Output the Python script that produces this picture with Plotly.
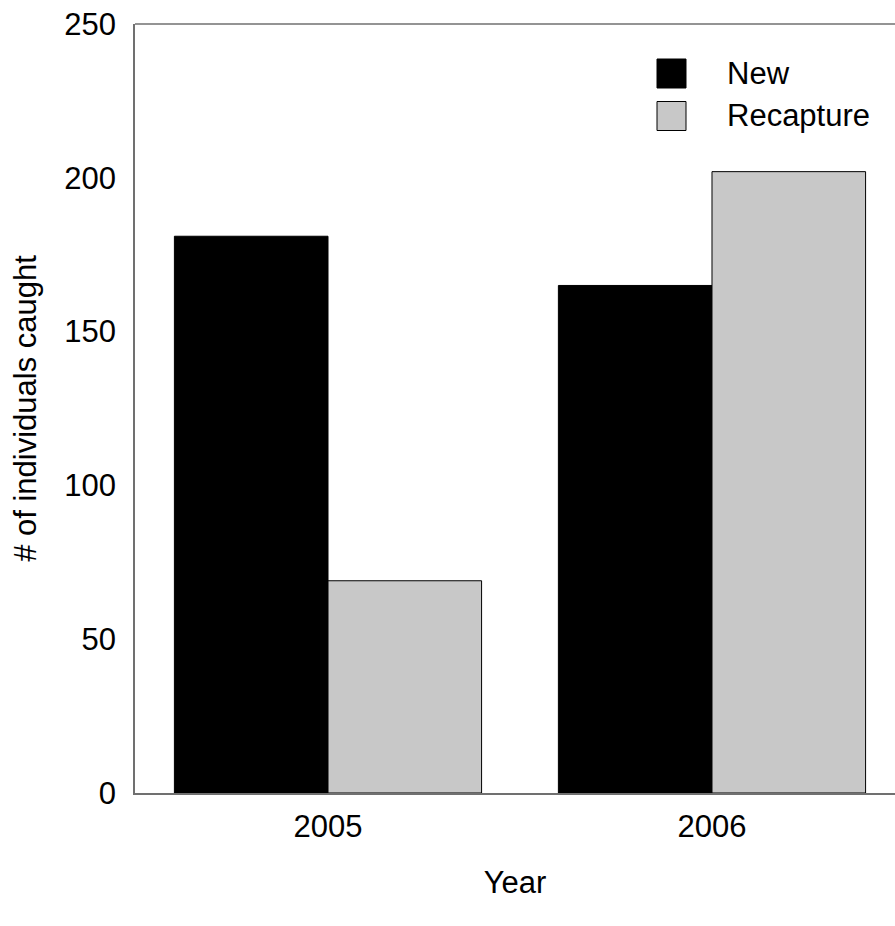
import plotly.graph_objects as go

years = ["2005", "2006"]
series_names = ["New", "Recapture"]
new_vals = [181, 165]
recap_vals = [69, 202]
y_ticks = [0, 50, 100, 150, 200, 250]

colors = ["#000000", "#c8c8c8"]
FONT = "Liberation Sans, Arial, Helvetica, sans-serif"
FS = 31

fig = go.Figure()
for name, vals, col in zip(series_names, [new_vals, recap_vals], colors):
    fig.add_trace(go.Bar(x=years, y=vals, name=name, marker=dict(color=col, line=dict(color="#000000", width=1)),
                         showlegend=False))

# manual legend
for i, (name, col) in enumerate(zip(series_names, colors)):
    cy = [73.5, 116][i]
    fig.add_shape(type="rect", xref="paper", yref="paper",
                  x0=(657 - 135) / 760, x1=(686 - 135) / 760,
                  y0=(793 - (cy + 14.5)) / 769, y1=(793 - (cy - 14.5)) / 769,
                  fillcolor=col, line=dict(color="#000000", width=1))
    fig.add_annotation(xref="paper", yref="paper", x=(725 - 135) / 760, y=(793 - cy) / 769,
                       text=name, showarrow=False, xanchor="left", yanchor="middle",
                       font=dict(size=FS, color="#000000", family=FONT))

# top border
fig.add_shape(type="line", xref="paper", yref="paper", x0=0, x1=1, y0=1, y1=1,
              line=dict(color="#707070", width=1.5))

fig.update_layout(
    width=895, height=926,
    margin=dict(l=135, r=0, t=24, b=133),
    paper_bgcolor="white", plot_bgcolor="white",
    barmode="group", bargap=0.2, bargroupgap=0,
    font=dict(family=FONT, size=FS, color="#000000"),
    xaxis=dict(range=[-0.5026, 1.4766], showgrid=False, zeroline=False,
               showline=True, linecolor="#707070", linewidth=1.5, ticks="",
               tickfont=dict(size=FS), ticklabelstandoff=5,
               title=dict(text="Year", font=dict(size=FS), standoff=28)),
    yaxis=dict(range=[0, 250], tickvals=y_ticks, showgrid=False, zeroline=False,
               showline=True, linecolor="#707070", linewidth=1.5, ticks="",
               tickfont=dict(size=FS), ticklabelstandoff=11,
               title=dict(text="# of individuals caught", font=dict(size=FS), standoff=18)),
)

fig.write_html("out.html")
